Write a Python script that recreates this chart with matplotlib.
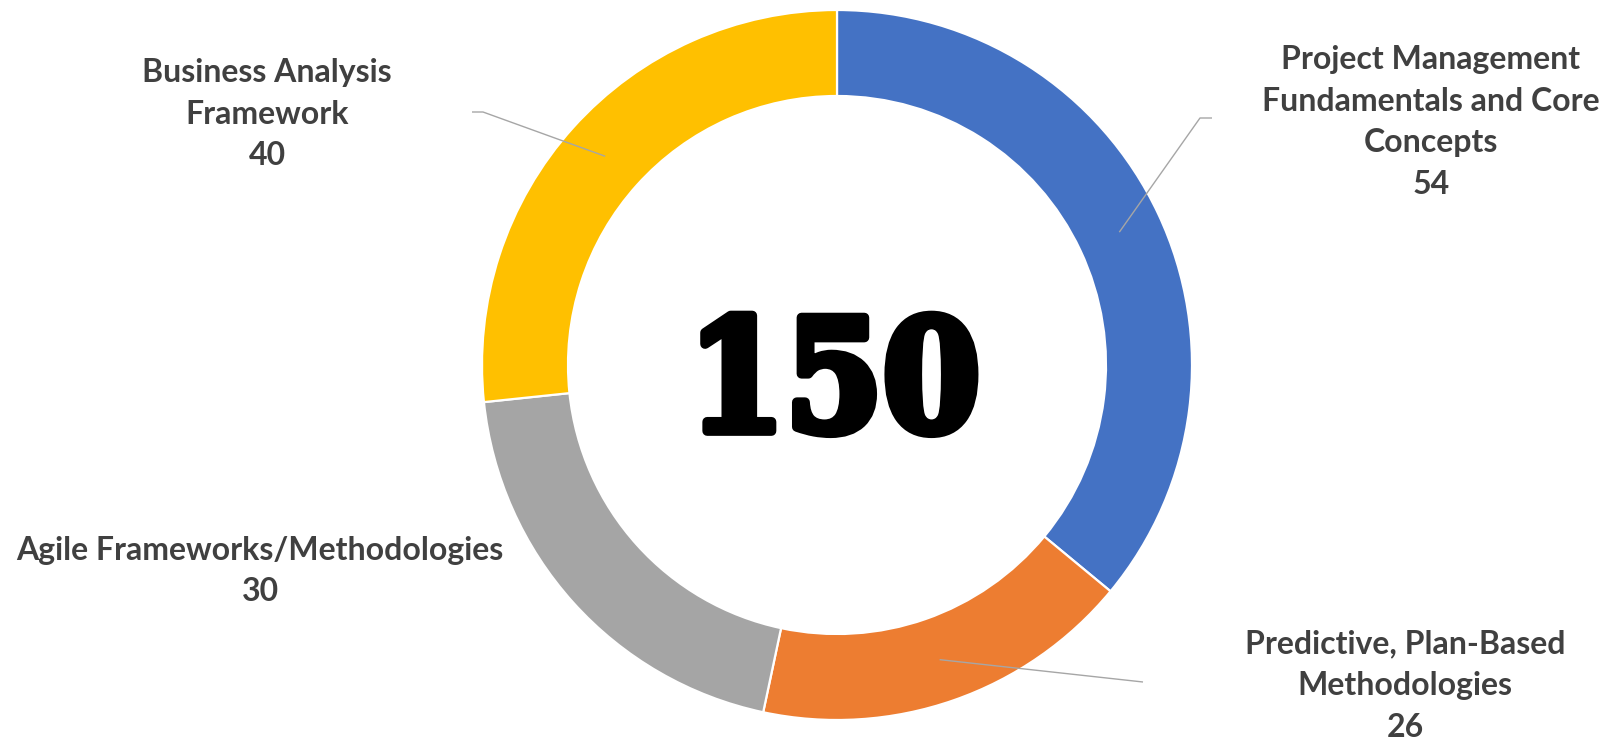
import numpy as np
import matplotlib
matplotlib.use("Agg")
import matplotlib.pyplot as plt
from matplotlib import font_manager as fm
import matplotlib.patheffects as pe

# ---- data ----
categories = [
    "Project Management\nFundamentals and Core\nConcepts",
    "Predictive, Plan-Based\nMethodologies",
    "Agile Frameworks/Methodologies",
    "Business Analysis\nFramework",
]
values = [54, 26, 30, 40]
colors = ["#4472C4", "#ED7D31", "#A5A5A5", "#FFC000"]
total_label = str(sum(values))

# ---- layout (pixel space) ----
W, H = 1608, 741
cx, cy = 837, 365          # donut centre (pixels from top-left)
R_out, R_in = 355, 269
label_pos = [(1431, 122), (1405, 686), (260, 571), (267, 114)]
leader_ends = [[(1200, 118), (1212, 118)], [(1143, 682)], None, [(483, 112), (472, 112)]]

fig = plt.figure(figsize=(W / 100, H / 100), dpi=100)
ax = fig.add_axes([0, 0, 1, 1])

def Y(y):
    return H - y

ax.pie(values, colors=colors, startangle=90, counterclock=False,
       radius=R_out, center=(cx, Y(cy)),
       wedgeprops=dict(width=R_out - R_in, edgecolor="white", linewidth=1.6))
ax.set_xlim(0, W)
ax.set_ylim(0, H)
ax.set_aspect("equal")
ax.axis("off")

# leader lines from wedge mid-points
cum = np.cumsum([0] + values)
r_mid = (R_out + R_in) / 2
for i, v in enumerate(values):
    if leader_ends[i] is None:
        continue
    mid = (cum[i] + cum[i + 1]) / 2 / cum[-1] * 360
    ang = np.deg2rad(90 - mid)
    x0 = cx + r_mid * np.cos(ang)
    y0 = cy - r_mid * np.sin(ang)
    xs = [x0] + [p[0] for p in leader_ends[i]]
    ys = [Y(y0)] + [Y(p[1]) for p in leader_ends[i]]
    ax.plot(xs, ys, color="#A6A6A6", lw=1.0, solid_capstyle="butt")

# labels
for (lx, ly), cat, v in zip(label_pos, categories, values):
    ax.text(lx, Y(ly), f"{cat}\n{v}", ha="center", va="center",
            multialignment="center", fontsize=23, fontweight="bold",
            family="Lato", color="#404040", linespacing=1.53)

# centre total
cond = [f for f in fm.findSystemFonts() if f.endswith("DejaVuSerifCondensed-Bold.ttf")]
if cond:
    fp = fm.FontProperties(fname=cond[0], size=112)
else:
    fp = fm.FontProperties(family="DejaVu Serif", weight="bold", size=104)
ax.text(834, Y(431), total_label, ha="center", va="baseline",
        fontproperties=fp, color="black",
        path_effects=[pe.withStroke(linewidth=7, foreground="black")])

fig.savefig("out.png", dpi=100, facecolor="white")
